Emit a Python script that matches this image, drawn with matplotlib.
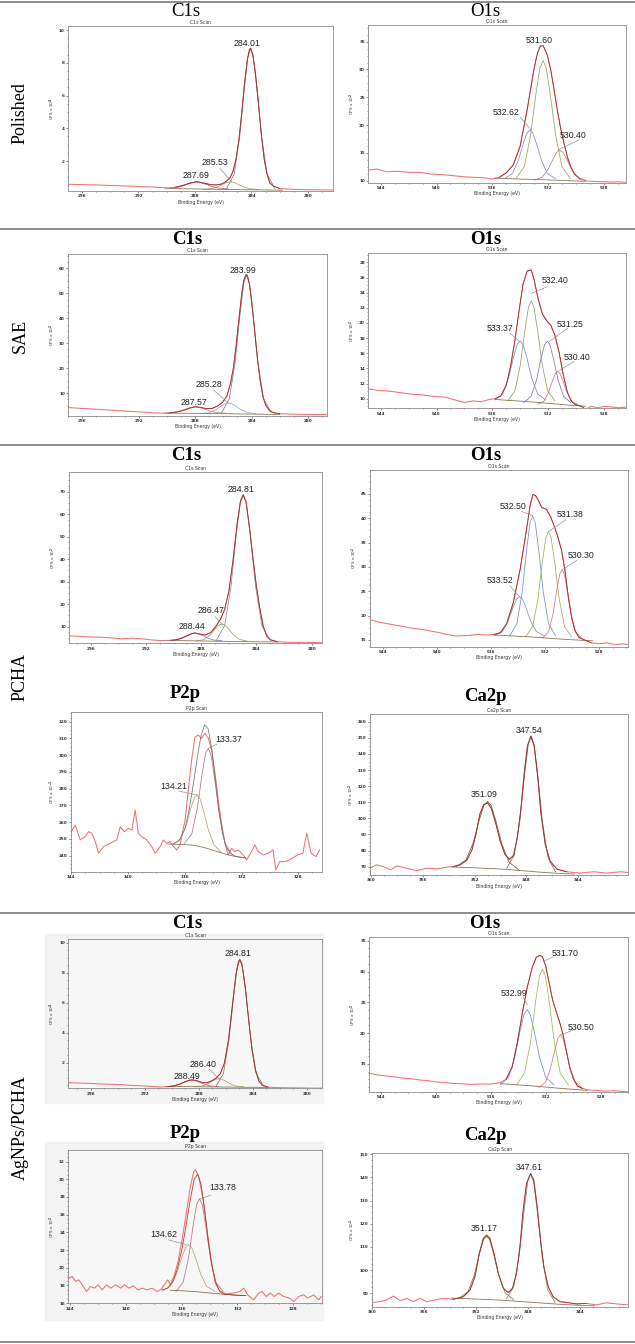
import matplotlib
matplotlib.use('Agg')
import matplotlib.pyplot as plt
from matplotlib.ticker import MultipleLocator, AutoMinorLocator
from matplotlib.lines import Line2D

plt.rcParams['font.weight'] = 'bold'

#~~~~~~~~~~~~~~~~~~~~~~~~~~~~~~~~~~~~
# XPS data
#~~~~~~~~~~~~~~~~~~~~~~~~~~~~~~~~~~~~

# Polished - C1s
pol_c1s_raw_x = [297.0, 296.0, 295.0, 294.0, 293.0, 292.0, 291.0, 290.4, 289.9, 289.4, 288.9, 288.4, 287.9, 287.4, 286.9, 286.5, 286.1, 285.8, 285.5, 285.3, 285.1, 284.9, 284.7, 284.5, 284.3, 284.15, 284.06, 283.9, 283.7, 283.5, 283.3, 283.1, 282.9, 282.7, 282.4, 282.0, 281.0, 280.0, 279.0, 278.2]
pol_c1s_raw_y = [0.58, 0.56, 0.54, 0.51, 0.48, 0.45, 0.41, 0.38, 0.36, 0.40, 0.50, 0.64, 0.74, 0.66, 0.56, 0.54, 0.60, 0.75, 1.0, 1.4, 2.1, 3.25, 4.85, 6.7, 8.15, 8.8, 8.9, 8.5, 7.2, 5.45, 3.6, 2.1, 1.2, 0.65, 0.45, 0.32, 0.27, 0.25, 0.24, 0.23]
pol_c1s_bg_x = [289.8, 287.5, 285.5, 283.5, 281.8]
pol_c1s_bg_y = [0.32, 0.29, 0.26, 0.24, 0.22]
pol_c1s_cx = [[282.37, 282.89, 283.28, 283.61, 283.87, 284.06, 284.26, 284.52, 284.84, 285.23, 285.75],
              [283.55, 284.15, 284.6, 284.98, 285.28, 285.5, 285.72, 286.02, 286.4, 286.85, 287.45],
              [285.69, 286.37, 286.88, 287.31, 287.65, 287.9, 288.15, 288.5, 288.92, 289.43, 290.11]]
pol_c1s_cy = [[0.34, 1.2, 3.43, 6.36, 8.33, 8.85, 8.33, 6.36, 3.43, 1.2, 0.34],
              [0.265, 0.31, 0.43, 0.59, 0.70, 0.73, 0.70, 0.59, 0.43, 0.31, 0.265],
              [0.30, 0.35, 0.46, 0.60, 0.69, 0.72, 0.69, 0.60, 0.46, 0.35, 0.30]]
pol_c1s_peaks = ['284.01', '285.53', '287.69']

# Polished - O1s
pol_o1s_raw_x = [544.9, 544.3, 543.6, 542.8, 542.0, 541.2, 540.4, 539.6, 538.8, 538.0, 537.2, 536.5, 536.0, 535.5, 535.0, 534.5, 534.0, 533.5, 533.0, 532.75, 532.55, 532.35, 532.05, 531.8, 531.6, 531.35, 531.1, 530.85, 530.6, 530.35, 530.1, 529.7, 529.2, 528.6, 528.0, 527.4, 526.9, 526.4]
pol_o1s_raw_y = [11.9, 12.1, 11.6, 11.7, 11.5, 11.5, 11.2, 11.1, 10.9, 10.7, 10.6, 10.5, 10.3, 10.6, 11.4, 12.8, 16.2, 22.7, 30.2, 33.0, 34.2, 34.3, 32.6, 29.9, 26.9, 23.0, 19.5, 16.7, 14.2, 12.4, 11.2, 10.3, 9.95, 9.85, 9.8, 9.75, 9.8, 9.7]
pol_o1s_bg_x = [535.8, 534.0, 532.0, 530.0, 529.3]
pol_o1s_bg_y = [10.45, 10.3, 10.15, 9.95, 9.9]
pol_o1s_cx = [[531.48, 532.04, 532.46, 532.81, 533.09, 533.3, 533.51, 533.79, 534.14, 534.56, 535.12],
              [530.4, 531.0, 531.45, 531.83, 532.13, 532.35, 532.58, 532.88, 533.25, 533.7, 534.3],
              [529.33, 529.89, 530.31, 530.66, 530.94, 531.15, 531.36, 531.64, 531.99, 532.41, 532.97]]
pol_o1s_cy = [[10.39, 11.27, 13.56, 16.55, 18.57, 19.1, 18.57, 16.55, 13.56, 11.27, 10.39],
              [10.41, 12.55, 18.12, 25.39, 30.32, 31.6, 30.32, 25.39, 18.12, 12.55, 10.41],
              [10.1, 10.64, 12.05, 13.88, 15.13, 15.45, 15.13, 13.88, 12.05, 10.64, 10.1]]
pol_o1s_peaks = ['531.60', '532.62', '530.40']

# SAE - C1s
sae_c1s_raw_x = [297.0, 296.3, 295.5, 294.7, 293.9, 293.1, 292.3, 291.5, 290.8, 290.3, 289.8, 289.3, 288.8, 288.4, 288.0, 287.6, 287.2, 286.8, 286.4, 286.05, 285.75, 285.5, 285.3, 285.1, 284.9, 284.7, 284.55, 284.4, 284.3, 284.15, 284.0, 283.8, 283.6, 283.4, 283.2, 283.0, 282.75, 282.45, 282.0, 281.2, 280.4, 279.6, 278.8, 278.3]
sae_c1s_raw_y = [4.25, 4.0, 3.75, 3.45, 3.2, 2.9, 2.65, 2.35, 2.1, 2.0, 2.15, 2.5, 3.2, 4.0, 4.6, 4.3, 3.8, 3.9, 4.9, 6.4, 8.9, 13.8, 19.9, 28.9, 39.5, 49.8, 55.1, 57.5, 57.2, 53.7, 47.3, 36.1, 24.7, 15.3, 8.9, 5.2, 3.2, 2.2, 1.8, 1.65, 1.55, 1.5, 1.45, 1.4]
sae_c1s_bg_x = [290.0, 288.0, 286.0, 284.0, 282.0]
sae_c1s_bg_y = [2.05, 1.95, 1.8, 1.65, 1.5]
sae_c1s_cx = [[282.61, 283.15, 283.55, 283.89, 284.16, 284.36, 284.56, 284.83, 285.17, 285.58, 286.12],
              [283.69, 284.29, 284.74, 285.12, 285.42, 285.64, 285.87, 286.17, 286.54, 286.99, 287.59],
              [285.79, 286.47, 286.98, 287.41, 287.75, 288.0, 288.26, 288.6, 289.02, 289.53, 290.21]]
sae_c1s_cy = [[2.26, 7.8, 22.2, 41.1, 53.9, 57.2, 53.9, 41.1, 22.2, 7.8, 2.26],
              [1.84, 2.27, 3.39, 4.85, 5.84, 6.1, 5.84, 4.85, 3.39, 2.27, 1.84],
              [1.98, 2.24, 2.91, 3.8, 4.39, 4.55, 4.39, 3.8, 2.91, 2.24, 1.98]]
sae_c1s_peaks = ['283.99', '285.28', '287.57']

# SAE - O1s
sae_o1s_raw_x = [544.9, 544.2, 543.4, 542.6, 541.8, 541.0, 540.2, 539.4, 538.6, 538.0, 537.4, 536.8, 536.2, 535.8, 535.4, 535.0, 534.7, 534.4, 534.1, 533.8, 533.5, 533.2, 533.0, 532.7, 532.4, 532.1, 531.8, 531.5, 531.2, 530.9, 530.6, 530.3, 530.0, 529.6, 529.3, 528.9, 528.4, 527.9, 527.4, 526.9, 526.4]
sae_o1s_raw_y = [11.3, 11.1, 11.0, 10.8, 10.6, 10.5, 10.3, 10.2, 9.8, 9.5, 9.7, 9.6, 9.9, 10.0, 10.35, 11.75, 14.15, 17.4, 21.3, 25.05, 26.85, 27.0, 25.75, 23.1, 21.2, 20.3, 19.7, 18.35, 16.1, 13.1, 10.8, 9.6, 9.2, 9.0, 8.6, 9.0, 8.8, 9.0, 8.9, 8.8, 8.9]
sae_o1s_bg_x = [535.8, 533.0, 530.5, 529.3]
sae_o1s_bg_y = [9.9, 9.55, 9.15, 9.0]
sae_o1s_cx = [[532.18, 532.74, 533.16, 533.51, 533.79, 534.0, 534.21, 534.49, 534.84, 535.26, 535.82],
              [531.51, 532.03, 532.42, 532.75, 533.01, 533.2, 533.4, 533.66, 533.98, 534.37, 534.89],
              [530.36, 530.88, 531.27, 531.6, 531.86, 532.05, 532.25, 532.51, 532.83, 533.22, 533.74],
              [529.87, 530.31, 530.64, 530.92, 531.14, 531.3, 531.47, 531.69, 531.96, 532.29, 532.73]]
sae_o1s_cy = [[9.83, 10.62, 12.67, 15.36, 17.18, 17.65, 17.18, 15.36, 12.67, 10.62, 9.83],
              [9.73, 11.06, 14.52, 19.04, 22.1, 22.9, 22.1, 19.04, 14.52, 11.06, 9.73],
              [9.48, 10.3, 12.43, 15.22, 17.11, 17.6, 17.11, 15.22, 12.43, 10.3, 9.48],
              [9.24, 9.68, 10.83, 12.32, 13.34, 13.6, 13.34, 12.32, 10.83, 9.68, 9.24]]
sae_o1s_peaks = ['532.40', '533.37', '531.25', '530.40']

# PCHA - C1s
pcha_c1s_raw_x = [297.55, 296.8, 296.0, 295.2, 294.5, 293.8, 293.0, 292.3, 291.6, 290.9, 290.2, 289.8, 289.4, 289.0, 288.7, 288.45, 288.1, 287.7, 287.3, 286.9, 286.6, 286.3, 286.0, 285.7, 285.4, 285.15, 284.95, 284.75, 284.5, 284.25, 284.0, 283.75, 283.5, 283.25, 283.0, 282.5, 282.0, 281.2, 280.4, 279.7, 279.3]
pcha_c1s_raw_y = [5.9, 5.7, 5.4, 5.3, 5.0, 4.6, 4.9, 4.6, 4.1, 3.8, 3.95, 4.2, 4.9, 6.0, 6.85, 7.2, 6.7, 6.3, 7.4, 10.4, 13.25, 17.65, 25.6, 39.1, 55.6, 66.0, 68.6, 65.5, 54.1, 40.5, 28.0, 18.0, 10.0, 5.8, 4.2, 3.3, 3.1, 3.0, 3.0, 2.95, 2.9]
pcha_c1s_bg_x = [290.2, 288.0, 286.0, 284.0, 282.5]
pcha_c1s_bg_y = [3.85, 3.65, 3.45, 3.3, 3.2]
pcha_c1s_cx = [[283.0, 283.6, 284.05, 284.43, 284.73, 284.95, 285.18, 285.48, 285.85, 286.3, 286.9],
               [284.68, 285.24, 285.66, 286.01, 286.29, 286.5, 286.71, 286.99, 287.34, 287.76, 288.32],
               [286.5, 287.1, 287.55, 287.93, 288.23, 288.45, 288.68, 288.98, 289.35, 289.8, 290.4]]
pcha_c1s_cy = [[3.95, 10.47, 27.42, 49.59, 64.59, 68.5, 64.59, 49.59, 27.42, 10.47, 3.95],
               [3.58, 4.35, 6.35, 8.97, 10.74, 11.2, 10.74, 8.97, 6.35, 4.35, 3.58],
               [3.73, 4.07, 4.96, 6.11, 6.9, 7.1, 6.9, 6.11, 4.96, 4.07, 3.73]]
pcha_c1s_peaks = ['284.81', '286.47', '288.44']

# PCHA - O1s
pcha_o1s_raw_x = [544.9, 544.2, 543.4, 542.6, 541.8, 541.0, 540.2, 539.4, 538.6, 537.8, 537.0, 536.3, 535.8, 535.3, 534.85, 534.35, 533.85, 533.5, 533.1, 532.9, 532.7, 532.5, 532.25, 531.9, 531.6, 531.35, 531.1, 530.8, 530.55, 530.3, 530.05, 529.8, 529.5, 529.1, 528.6, 528.0, 527.4, 526.8, 526.3, 525.9]
pcha_o1s_raw_y = [19.1, 18.6, 18.2, 17.8, 17.4, 17.1, 16.7, 16.2, 15.8, 15.9, 16.1, 16.0, 16.1, 16.5, 18.3, 22.7, 29.5, 35.5, 42.8, 44.9, 44.6, 43.6, 42.2, 41.8, 40.3, 38.5, 36.5, 33.5, 29.5, 24.0, 19.6, 16.9, 15.5, 15.0, 14.4, 14.2, 14.4, 14.0, 14.2, 14.0]
pcha_o1s_bg_x = [535.8, 533.0, 530.5, 528.5]
pcha_o1s_bg_y = [16.0, 15.6, 15.1, 14.8]
pcha_o1s_cx = [[532.08, 532.64, 533.06, 533.41, 533.69, 533.9, 534.11, 534.39, 534.74, 535.16, 535.72],
               [531.23, 531.75, 532.14, 532.47, 532.73, 532.92, 533.12, 533.38, 533.7, 534.09, 534.61],
               [530.06, 530.58, 530.97, 531.3, 531.56, 531.75, 531.95, 532.21, 532.53, 532.92, 533.44],
               [529.32, 529.76, 530.09, 530.37, 530.59, 530.75, 530.92, 531.14, 531.41, 531.74, 532.18]]
pcha_o1s_cy = [[15.88, 16.69, 18.8, 21.55, 23.41, 23.9, 23.41, 21.55, 18.8, 16.69, 15.88],
               [15.85, 18.34, 24.81, 33.28, 39.01, 40.5, 39.01, 33.28, 24.81, 18.34, 15.85],
               [15.62, 17.81, 23.5, 30.95, 35.99, 37.3, 35.99, 30.95, 23.5, 17.81, 15.62],
               [15.34, 16.76, 20.45, 25.28, 28.55, 29.4, 28.55, 25.28, 20.45, 16.76, 15.34]]
pcha_o1s_peaks = ['532.50', '531.38', '530.30', '533.52']

# PCHA - P2p
pcha_p2p_raw_x = [144.0, 143.72, 143.37, 143.02, 142.78, 142.55, 142.31, 142.08, 141.72, 141.26, 140.79, 140.55, 140.27, 139.97, 139.73, 139.5, 139.27, 139.03, 138.68, 138.33, 138.09, 137.74, 137.51, 137.27, 137.04, 136.8, 136.57, 136.33, 136.22, 135.98, 135.75, 135.52, 135.28, 135.05, 134.81, 134.58, 134.34, 134.11, 133.87, 133.64, 133.41, 133.17, 132.94, 132.7, 132.47, 132.23, 131.88, 131.65, 131.3, 131.06, 130.83, 130.48, 130.13, 129.78, 129.59, 129.31, 128.96, 128.61, 128.26, 128.03, 127.68, 127.4, 127.1, 126.75, 126.5]
pcha_p2p_raw_y = [254.3, 258.3, 249.4, 251.3, 254.3, 253.4, 248.4, 241.4, 245.4, 247.4, 249.4, 257.3, 254.3, 256.3, 255.3, 267.3, 253.4, 251.3, 249.4, 245.4, 241.4, 245.4, 249.4, 247.4, 248.4, 245.4, 243.4, 246.4, 251.3, 261.3, 279.2, 297.1, 311.0, 312.0, 310.1, 313.1, 310.1, 303.1, 289.2, 273.3, 259.3, 247.4, 240.4, 244.4, 242.4, 243.4, 240.4, 237.4, 242.4, 246.4, 242.4, 240.4, 241.4, 243.4, 231.5, 236.4, 236.4, 237.4, 239.4, 240.4, 241.4, 253.4, 241.4, 239.4, 243.4]
pcha_p2p_bg_x = [137.2, 136.2, 135.5, 135.0, 134.5, 134.0, 133.5, 133.0, 132.4, 131.7]
pcha_p2p_bg_y = [246.9, 246.7, 246.3, 245.6, 244.5, 243.2, 241.8, 240.6, 239.4, 238.6]
pcha_p2p_env_x = [136.8, 136.4, 136.0, 135.7, 135.4, 135.1, 134.85, 134.6, 134.35, 134.1, 133.85, 133.6, 133.35, 133.1, 132.8, 132.4, 131.7]
pcha_p2p_env_y = [247.1, 248.8, 255.9, 267.0, 282.6, 299.7, 311.9, 318.2, 315.8, 303.6, 285.4, 267.1, 253.5, 245.5, 241.5, 239.5, 238.6]
pcha_p2p_cx = [[133.43, 133.95, 134.34, 134.67, 134.93, 135.12, 135.32, 135.58, 135.9, 136.29, 136.81],
               [132.65, 133.17, 133.56, 133.89, 134.15, 134.34, 134.54, 134.8, 135.12, 135.51, 136.03]]
pcha_p2p_cy = [[241.9, 246.5, 255.4, 266.6, 274.2, 276.3, 274.8, 268.1, 257.9, 250.1, 247.1],
               [240.5, 247.5, 264.2, 285.5, 300.0, 304.1, 301.0, 287.7, 268.0, 252.9, 247.3]]
pcha_p2p_peaks = ['133.37', '134.21']

# PCHA - Ca2p
pcha_ca2p_raw_x = [360.08, 359.6, 359.05, 358.5, 358.0, 357.24, 356.47, 355.7, 354.9, 354.16, 353.65, 353.1, 352.6, 352.2, 351.9, 351.6, 351.3, 351.0, 350.7, 350.34, 350.03, 349.65, 349.3, 349.0, 348.7, 348.43, 348.17, 347.92, 347.66, 347.4, 347.14, 346.89, 346.55, 346.17, 345.65, 344.88, 343.85, 342.8, 341.8, 340.7, 340.13]
pcha_ca2p_raw_y = [69.0, 71.1, 70.0, 68.0, 70.4, 69.0, 67.5, 69.0, 68.6, 69.7, 70.0, 71.2, 74.0, 80.5, 90.0, 102.5, 108.5, 109.6, 106.0, 96.0, 86.0, 77.5, 74.5, 77.0, 88.0, 105.5, 128.0, 145.0, 151.0, 145.0, 127.0, 104.0, 84.0, 73.5, 68.5, 66.8, 66.0, 66.8, 66.0, 66.8, 66.3]
pcha_ca2p_bg_x = [353.8, 352.0, 350.0, 348.5, 347.0, 345.5, 344.3]
pcha_ca2p_bg_y = [69.8, 69.3, 68.5, 67.6, 66.6, 65.8, 65.4]
pcha_ca2p_cx = [[348.6, 349.34, 349.89, 350.35, 350.72, 351.0, 351.28, 351.65, 352.11, 352.67, 353.41],
                [345.75, 346.33, 346.76, 347.12, 347.41, 347.63, 347.85, 348.14, 348.5, 348.94, 349.52]]
pcha_ca2p_cy = [[68.1, 72.7, 83.85, 98.2, 107.9, 110.5, 108.1, 98.7, 84.75, 74.1, 70.1],
                [66.7, 75.5, 97.7, 126.5, 146.0, 151.2, 146.3, 127.2, 98.8, 77.2, 69.0]]
pcha_ca2p_peaks = ['347.54', '351.09']

# AgNPs/PCHA - C1s
ag_c1s_raw_x = [297.66, 296.9, 296.1, 295.3, 294.5, 293.7, 292.9, 292.1, 291.4, 290.8, 290.3, 289.85, 289.4, 289.0, 288.7, 288.45, 288.1, 287.75, 287.4, 287.05, 286.7, 286.4, 286.1, 285.8, 285.5, 285.25, 285.05, 284.95, 284.8, 284.55, 284.3, 284.05, 283.8, 283.55, 283.3, 282.9, 282.4, 281.7, 280.9, 280.1, 279.4, 278.9]
ag_c1s_raw_y = [0.67, 0.64, 0.62, 0.58, 0.56, 0.53, 0.48, 0.45, 0.41, 0.38, 0.40, 0.45, 0.57, 0.73, 0.83, 0.85, 0.78, 0.68, 0.66, 0.78, 0.98, 1.27, 1.96, 3.5, 5.87, 7.86, 8.76, 8.89, 8.57, 7.02, 4.84, 2.83, 1.5, 0.78, 0.5, 0.38, 0.34, 0.33, 0.32, 0.31, 0.30, 0.30]
ag_c1s_bg_x = [290.3, 288.5, 286.5, 284.5, 282.8]
ag_c1s_bg_y = [0.41, 0.40, 0.38, 0.36, 0.35]
ag_c1s_cx = [[283.2, 283.74, 284.14, 284.48, 284.75, 284.95, 285.15, 285.42, 285.76, 286.17, 286.71],
             [284.68, 285.24, 285.66, 286.01, 286.29, 286.5, 286.71, 286.99, 287.34, 287.76, 288.32],
             [286.55, 287.15, 287.6, 287.98, 288.28, 288.5, 288.73, 289.03, 289.4, 289.85, 290.45]]
ag_c1s_cy = [[0.44, 1.29, 3.5, 6.4, 8.34, 8.85, 8.34, 6.4, 3.5, 1.29, 0.44],
             [0.39, 0.44, 0.58, 0.77, 0.90, 0.93, 0.90, 0.77, 0.58, 0.44, 0.39],
             [0.40, 0.45, 0.57, 0.72, 0.82, 0.85, 0.82, 0.72, 0.57, 0.45, 0.40]]
ag_c1s_peaks = ['284.81', '286.40', '288.49']

# AgNPs/PCHA - O1s
ag_o1s_raw_x = [544.85, 544.2, 543.6, 543.0, 542.4, 541.8, 541.2, 540.6, 540.0, 539.4, 538.8, 538.2, 537.5, 536.8, 536.0, 535.35, 534.9, 534.45, 534.05, 533.7, 533.35, 533.0, 532.7, 532.45, 532.25, 532.0, 531.75, 531.5, 531.25, 531.0, 530.75, 530.5, 530.25, 530.0, 529.7, 529.3, 528.8, 528.2, 527.6, 527.0, 526.5, 526.0]
ag_o1s_raw_y = [13.5, 13.2, 13.05, 12.9, 12.7, 12.6, 12.4, 12.3, 12.1, 12.0, 11.85, 11.8, 11.7, 11.75, 11.75, 11.95, 12.5, 14.5, 18.8, 23.4, 27.5, 30.6, 32.3, 32.6, 32.4, 30.8, 28.0, 25.3, 23.5, 21.8, 19.8, 17.0, 14.3, 12.6, 11.4, 11.0, 10.75, 10.7, 10.6, 10.65, 10.55, 10.5]
ag_o1s_bg_x = [535.3, 533.0, 531.0, 529.0]
ag_o1s_bg_y = [11.8, 11.45, 11.05, 10.7]
ag_o1s_cx = [[531.41, 532.01, 532.46, 532.84, 533.14, 533.36, 533.59, 533.89, 534.26, 534.71, 535.31],
             [530.37, 530.95, 531.38, 531.74, 532.03, 532.25, 532.47, 532.76, 533.12, 533.56, 534.14],
             [529.38, 529.86, 530.22, 530.52, 530.76, 530.94, 531.12, 531.36, 531.66, 532.02, 532.5]]
ag_o1s_cy = [[11.62, 12.85, 16.05, 20.23, 23.06, 23.8, 23.06, 20.23, 16.05, 12.85, 11.62],
             [11.59, 13.49, 18.43, 24.89, 29.26, 30.4, 29.26, 24.89, 18.43, 13.49, 11.59],
             [11.19, 12.05, 14.28, 17.21, 19.18, 19.7, 19.18, 17.21, 14.28, 12.05, 11.19]]
ag_o1s_peaks = ['531.70', '532.99', '530.50']

# AgNPs/PCHA - P2p
ag_p2p_raw_x = [144.07, 143.83, 143.6, 143.36, 143.05, 142.81, 142.52, 142.24, 142.0, 141.69, 141.38, 141.09, 140.73, 140.37, 140.09, 139.78, 139.47, 139.13, 138.82, 138.47, 138.11, 137.75, 137.47, 137.16, 137.0, 136.8, 136.56, 136.28, 135.97, 135.66, 135.37, 135.13, 135.01, 134.77, 134.46, 134.18, 133.89, 133.58, 133.22, 132.75, 132.27, 131.84, 131.55, 131.27, 130.84, 130.48, 130.24, 129.93, 129.64, 129.36, 129.05, 128.69, 128.26, 127.97, 127.61, 127.25, 126.97, 126.54, 126.18, 126.0]
ag_p2p_raw_y = [18.82, 19.0, 18.44, 18.63, 17.88, 17.31, 17.88, 17.69, 18.07, 17.5, 18.07, 17.69, 18.07, 17.69, 18.07, 17.69, 17.95, 17.5, 17.69, 17.5, 17.69, 17.31, 17.58, 18.26, 18.63, 18.07, 19.0, 20.52, 23.15, 26.17, 29.18, 30.87, 31.06, 30.3, 27.67, 24.28, 20.89, 18.26, 17.2, 17.05, 17.13, 17.31, 17.69, 16.94, 16.37, 17.13, 17.31, 16.75, 17.13, 16.75, 17.13, 16.75, 16.56, 16.18, 16.75, 16.94, 16.56, 16.94, 16.37, 16.75]
ag_p2p_bg_x = [136.8, 136.0, 135.0, 134.0, 133.0, 132.0, 131.4]
ag_p2p_bg_y = [17.45, 17.4, 17.3, 17.15, 17.0, 16.9, 16.85]
ag_p2p_env_x = [137.4, 137.0, 136.6, 136.3, 136.0, 135.7, 135.4, 135.1, 134.85, 134.6, 134.35, 134.1, 133.85, 133.6, 133.3, 132.9, 132.2, 131.4]
ag_p2p_env_y = [17.5, 17.7, 18.5, 19.9, 21.9, 24.55, 27.5, 30.0, 30.55, 29.4, 26.6, 23.15, 20.4, 18.5, 17.45, 17.0, 16.9, 16.85]
ag_p2p_cx = [[133.62, 134.2, 134.63, 134.99, 135.28, 135.5, 135.72, 136.01, 136.37, 136.81, 137.39],
             [133.03, 133.55, 133.94, 134.27, 134.53, 134.72, 134.92, 135.18, 135.5, 135.89, 136.41]]
ag_p2p_cy = [[17.35, 17.88, 19.26, 21.06, 22.28, 22.6, 22.28, 21.06, 19.26, 17.88, 17.35],
             [17.31, 18.37, 21.12, 24.73, 27.16, 27.8, 27.16, 24.73, 21.12, 18.37, 17.31]]
ag_p2p_peaks = ['133.78', '134.62']

# AgNPs/PCHA - Ca2p
ag_ca2p_raw_x = [360.05, 359.41, 358.89, 358.38, 357.86, 357.35, 356.84, 356.32, 355.81, 355.17, 354.53, 353.76, 352.99, 352.47, 352.09, 351.76, 351.45, 351.19, 350.94, 350.63, 350.3, 349.91, 349.53, 349.2, 348.89, 348.63, 348.38, 348.12, 347.81, 347.56, 347.3, 347.04, 346.79, 346.45, 346.07, 345.56, 344.92, 344.27, 343.5, 342.73, 341.96, 341.2, 340.28]
ag_ca2p_raw_y = [85.95, 86.4, 87.1, 88.8, 86.8, 87.8, 86.4, 87.8, 86.4, 87.1, 87.8, 87.4, 88.5, 91.4, 97.2, 107.2, 113.7, 115.1, 113.7, 107.2, 98.6, 92.2, 90.3, 92.2, 98.6, 110.1, 125.9, 137.4, 141.7, 138.8, 127.3, 113.0, 101.5, 92.8, 88.5, 86.4, 85.95, 85.4, 85.6, 85.0, 85.9, 85.4, 85.0]
ag_ca2p_bg_x = [353.9, 352.0, 350.0, 348.0, 346.0, 344.5, 342.9]
ag_ca2p_bg_y = [87.9, 87.5, 87.0, 86.2, 85.4, 84.9, 84.6]
ag_ca2p_cx = [[349.12, 349.76, 350.24, 350.64, 350.96, 351.2, 351.44, 351.76, 352.16, 352.64, 353.28],
              [345.92, 346.5, 346.93, 347.29, 347.58, 347.8, 348.02, 348.31, 348.67, 349.11, 349.69]]
ag_ca2p_cy = [[87.27, 90.1, 97.3, 106.6, 112.95, 114.6, 113.05, 106.8, 97.65, 90.65, 88.02],
              [85.96, 91.7, 106.25, 125.3, 138.2, 141.6, 138.4, 125.7, 106.95, 92.7, 87.46]]
ag_ca2p_peaks = ['347.61', '351.17']

#~~~~~~~~~~
# PLOTTING
#~~~~~~~~~~

W, H = 635, 1344
fig = plt.figure(figsize=(W / 100, H / 100), dpi=100)

def px(x, y):
    return x / W, 1 - y / H

def panel(box, xlim, ylim, ystep, scan, expo, raw_x, raw_y, bg_x, bg_y, cx, cy, cols,
          peaks, marks, env=None, env_col='#9e2b2b', face='white'):
    l, r, t, b = box
    ax = fig.add_axes([l / W, 1 - b / H, (r - l) / W, (b - t) / H])
    ax.set_facecolor(face)
    ax.plot(raw_x, raw_y, color='#f27070', lw=0.75, zorder=2)
    for xs, ys, c in zip(cx, cy, cols):
        ax.plot(xs, ys, color=c, lw=0.55, zorder=3)
    ax.plot(bg_x, bg_y, color='#8c7550', lw=0.6, zorder=3)
    if env is None:
        lo, hi = min(bg_x), max(bg_x)
        ex = [x for x in raw_x if lo <= x <= hi]
        ey = [y for x, y in zip(raw_x, raw_y) if lo <= x <= hi]
    else:
        ex, ey = env
    ax.plot(ex, ey, color=env_col, lw=0.55, zorder=4)
    for txt, (tx, ty, lead) in zip(peaks, marks):
        ax.text(tx, ty, txt, ha='center', va='center', fontsize=6.3,
                family='Liberation Sans', fontweight='normal', color='#222222', zorder=5)
        if lead:
            ax.plot([lead[0], lead[2]], [lead[1], lead[3]], color='#8a8a8a', lw=0.45, zorder=5)
    ax.set_xlim(*xlim)
    ax.set_ylim(*ylim)
    ax.xaxis.set_major_locator(MultipleLocator(4))
    ax.xaxis.set_minor_locator(MultipleLocator(1))
    ax.yaxis.set_major_locator(MultipleLocator(ystep))
    ax.yaxis.set_minor_locator(AutoMinorLocator(4))
    ax.tick_params(which='both', labelsize=3, width=0.4, pad=1, colors='#333333')
    ax.tick_params(which='major', length=1.4)
    ax.tick_params(which='minor', length=0.8)
    for s in ax.spines.values():
        s.set_color('#8a8a8a')
        s.set_linewidth(0.6)
    ax.set_title(scan, fontsize=3.3, pad=1.5, color='#333333')
    ax.set_xlabel('Binding Energy (eV)', fontsize=3.3, labelpad=1, color='#333333')
    ax.set_ylabel('CPS x 10$^{%s}$' % expo, fontsize=3, labelpad=1.5, color='#333333')
    return ax

# light grey background behind the AgNPs/PCHA screenshots on the left
for (x0, y0, x1, y1) in [(45, 934, 323, 1103), (45, 1142, 323, 1320)]:
    fig.patches.append(plt.Rectangle(px(x0, y1), (x1 - x0) / W, (y1 - y0) / H,
                                     transform=fig.transFigure, color='#f3f3f3', zorder=-10))

c_grey, c_olive, c_pink, c_blue = '#7d7d7d', '#a3a265', '#c65a7e', '#6f8fcc'

panel((68, 333, 26, 191), (296.99, 278.23), (0.17, 10.25), 2, 'C1s Scan', '4',
      pol_c1s_raw_x, pol_c1s_raw_y, pol_c1s_bg_x, pol_c1s_bg_y, pol_c1s_cx, pol_c1s_cy,
      [c_grey, c_olive, c_pink], pol_c1s_peaks,
      [(284.3, 9.18, None), (286.58, 1.9, (286.23, 1.55, 285.4, 0.74)), (287.93, 1.1, None)])

panel((368.3, 626, 25, 182.7), (544.9, 526.4), (9.64, 38.0), 5, 'O1s Scan', '2',
      pol_o1s_raw_x, pol_o1s_raw_y, pol_o1s_bg_x, pol_o1s_bg_y, pol_o1s_cx, pol_o1s_cy,
      [c_blue, '#93a653', '#c97a8c'], pol_o1s_peaks,
      [(532.66, 35.2, None), (535.04, 22.2, (533.98, 21.4, 533.2, 19.1)),
       (530.2, 18.2, (529.8, 17.3, 531.3, 15.5))])

panel((68.3, 327, 254.3, 415.7), (297.0, 278.65), (1.0, 65.6), 10, 'C1s Scan', '2',
      sae_c1s_raw_x, sae_c1s_raw_y, sae_c1s_bg_x, sae_c1s_bg_y, sae_c1s_cx, sae_c1s_cy,
      [c_grey, '#8fb0d2', '#a69452'], sae_c1s_peaks,
      [(284.62, 59.3, None), (287.05, 13.6, (286.7, 11.3, 285.64, 6.0)), (288.06, 6.2, None)])

panel((368.3, 626, 253.3, 408.3), (544.9, 526.4), (8.73, 29.2), 2, 'O1s Scan', '2',
      sae_o1s_raw_x, sae_o1s_raw_y, sae_o1s_bg_x, sae_o1s_bg_y, sae_o1s_cx, sae_o1s_cy,
      [c_blue, '#8fa060', '#7a78b8', '#c97890'], sae_o1s_peaks,
      [(531.46, 25.55, (532.06, 24.8, 533.19, 23.9)), (535.42, 19.3, (534.7, 18.6, 534.07, 17.6)),
       (530.43, 19.8, (530.6, 19.3, 531.94, 17.5)), (529.9, 15.5, (530.14, 14.9, 531.3, 13.6))])

panel((69.3, 322, 472.3, 643.3), (297.55, 279.25), (2.6, 78.6), 10, 'C1s Scan', '2',
      pcha_c1s_raw_x, pcha_c1s_raw_y, pcha_c1s_bg_x, pcha_c1s_bg_y, pcha_c1s_cx, pcha_c1s_cy,
      ['#8a8a8a', c_olive, '#7080c0'], pcha_c1s_peaks,
      [(285.14, 71.1, None), (287.31, 17.0, (287.0, 14.4, 286.44, 10.8)), (288.69, 10.0, None)])

panel((370, 628.3, 470, 646.7), (544.94, 525.86), (13.6, 49.9), 5, 'O1s Scan', '2',
      pcha_o1s_raw_x, pcha_o1s_raw_y, pcha_o1s_bg_x, pcha_o1s_bg_y, pcha_o1s_cx, pcha_o1s_cy,
      ['#8090b2', c_blue, '#9aaa5a', '#d07890'], pcha_o1s_peaks,
      [(534.4, 42.3, (533.73, 41.4, 532.92, 40.5)), (530.17, 40.7, (530.46, 39.7, 531.74, 37.3)),
       (529.35, 32.3, (529.67, 31.3, 530.74, 29.4)), (535.34, 27.1, (534.6, 26.1, 533.9, 23.9))])

panel((71, 322, 711.7, 871.7), (144.02, 126.33), (230.4, 326), 10, 'P2p Scan', '-1',
      pcha_p2p_raw_x, pcha_p2p_raw_y, pcha_p2p_bg_x, pcha_p2p_bg_y, pcha_p2p_cx, pcha_p2p_cy,
      ['#b3a275', '#b57585'], pcha_p2p_peaks,
      [(132.87, 309.1, (133.75, 306.5, 134.34, 304.1)), (136.76, 281.6, (136.45, 278.6, 135.12, 276.2))],
      env=(pcha_p2p_env_x, pcha_p2p_env_y), env_col='#707070')

panel((370, 628.3, 714.3, 875), (360.08, 340.13), (64.8, 164.6), 10, 'Ca2p Scan', '2',
      pcha_ca2p_raw_x, pcha_ca2p_raw_y, pcha_ca2p_bg_x, pcha_ca2p_bg_y, pcha_ca2p_cx, pcha_ca2p_cy,
      ['#566a3c', '#6c6c6c'], pcha_ca2p_peaks,
      [(347.8, 154.5, None), (351.25, 114.5, None)])

panel((68.3, 322, 939.3, 1088.3), (297.66, 278.87), (0.29, 10.23), 2, 'C1s Scan', '4',
      ag_c1s_raw_x, ag_c1s_raw_y, ag_c1s_bg_x, ag_c1s_bg_y, ag_c1s_cx, ag_c1s_cy,
      [c_grey, c_olive, c_pink], ag_c1s_peaks,
      [(285.09, 9.29, None), (287.7, 1.9, (287.21, 1.56, 286.42, 0.85)), (288.89, 1.11, None)],
      face='#f7f7f7')

panel((369.3, 628.3, 937.3, 1091.7), (544.85, 526.0), (10.5, 35.55), 5, 'O1s Scan', '2',
      ag_o1s_raw_x, ag_o1s_raw_y, ag_o1s_bg_x, ag_o1s_bg_y, ag_o1s_cx, ag_o1s_cy,
      ['#6f8fd8', '#8fc050', '#e07080'], ag_o1s_peaks,
      [(530.62, 32.86, (531.47, 32.4, 532.2, 31.6)), (534.33, 26.5, (533.65, 25.8, 533.36, 24.6)),
       (529.45, 20.95, (530.0, 20.5, 530.93, 19.7))])

panel((68.3, 322, 1150, 1303.3), (144.12, 125.94), (15.98, 33.3), 2, 'P2p Scan', '2',
      ag_p2p_raw_x, ag_p2p_raw_y, ag_p2p_bg_x, ag_p2p_bg_y, ag_p2p_cx, ag_p2p_cy,
      ['#b3a275', '#b57585'], ag_p2p_peaks,
      [(133.05, 29.1, (133.91, 28.2, 134.68, 27.75)), (137.26, 23.7, (136.95, 23.15, 135.63, 22.6))],
      env=(ag_p2p_env_x, ag_p2p_env_y), env_col='#b83030', face='#f7f7f7')

panel((371.7, 628.3, 1153.3, 1306.7), (360.05, 340.28), (84.2, 150.4), 10, 'Ca2p Scan', '2',
      ag_ca2p_raw_x, ag_ca2p_raw_y, ag_ca2p_bg_x, ag_ca2p_bg_y, ag_ca2p_cx, ag_ca2p_cy,
      ['#6a7a40', '#7d7d7d'], ag_ca2p_peaks,
      [(347.9, 144.3, None), (351.4, 118.0, None)])

# big titles above each spectrum
serif = 'Liberation Serif'
titles = [(186, 12, 'C1s', 'normal'), (485, 12, 'O1s', 'normal'),
          (187, 240, 'C1s', 'bold'), (486, 240, 'O1s', 'bold'),
          (186, 456, 'C1s', 'bold'), (486, 456, 'O1s', 'bold'),
          (185, 693, 'P2p', 'bold'), (485, 696, 'Ca2p', 'bold'),
          (187, 923, 'C1s', 'bold'), (485, 923, 'O1s', 'bold'),
          (185, 1133, 'P2p', 'bold'), (485, 1136, 'Ca2p', 'bold')]
for x, y, s, w in titles:
    fig.text(*px(x, y), s, ha='center', va='center', family=serif, fontweight=w, fontsize=13.5)

# sample names on the left
for x, y, s in [(20, 113, 'Polished'), (20, 336, 'SAE'), (20, 677, 'PCHA'), (20, 1128, 'AgNPs/PCHA')]:
    fig.text(*px(x, y), s, ha='center', va='center', rotation=90, family=serif,
             fontweight='normal', fontsize=13)

# grey separators between sample rows
for y in [1.5, 228.5, 444.5, 913, 1342]:
    fig.add_artist(Line2D([0, 1], [1 - y / H] * 2, transform=fig.transFigure, color='#8c8c8c', lw=1.4))

plt.savefig('out.png', dpi=100)
